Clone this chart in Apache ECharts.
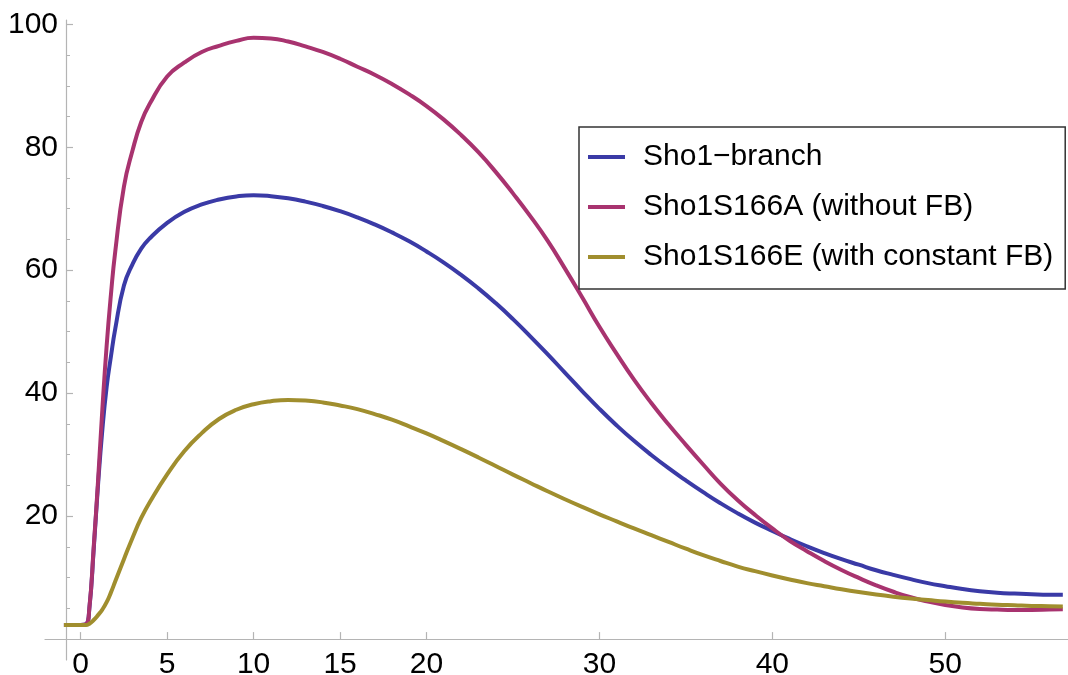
<!DOCTYPE html>
<html>
<head>
<meta charset="utf-8">
<script src="https://cdn.jsdelivr.net/npm/echarts@6/dist/echarts.min.js"></script>
<style>html,body{margin:0;padding:0;background:#fff}#c{width:1068px;height:675px}</style>
</head>
<body>
<div id="c"></div>
<script>
const seriesNames = ['Sho1\u2212branch', 'Sho1S166A (without FB)', 'Sho1S166E (with constant FB)'];
const xTickValues = [0, 5, 10, 15, 20, 30, 40, 50];
const yTickValues = [20, 40, 60, 80, 100];
const yMinorTickValues = [5, 10, 15, 25, 30, 35, 45, 50, 55, 65, 70, 75, 85, 90, 95];

const xs = [-0.97, 0, 0.3, 0.5, 0.75, 1, 1.25, 1.5, 1.75, 2, 2.5, 3, 3.5, 4,
  5, 6, 7, 8, 9, 10, 11, 12, 13, 14, 15, 16, 17, 18, 19, 20,
  21, 22, 23, 24, 25, 26, 27, 28, 29, 30, 31, 32, 33, 34, 35, 36, 37, 38, 39, 40,
  41, 42, 43, 44, 45, 46, 47, 48, 49, 50, 51, 52, 53, 54, 55, 56, 56.8];

const sho1Branch = [2.3, 2.3, 2.4, 5, 14.5, 25, 34, 41, 46, 50.5, 57.5, 61.0, 63.5, 65.2,
  67.7, 69.5, 70.7, 71.5, 72.0, 72.2, 72.05, 71.7, 71.15, 70.45, 69.6, 68.6, 67.45, 66.15, 64.7, 63.05,
  61.25, 59.25, 57.05, 54.65, 52.05, 49.25, 46.35, 43.35, 40.35, 37.45, 34.75, 32.25, 29.95, 27.8, 25.8, 23.9, 22.1, 20.45, 18.95, 17.6,
  16.3, 15.1, 14.0, 13.0, 12.1, 11.2, 10.45, 9.75, 9.1, 8.6, 8.15, 7.8, 7.55, 7.4, 7.3, 7.22, 7.2];

const sho1S166A = [2.3, 2.3, 2.4, 5, 14.9, 25.6, 37.3, 47.7, 56.1, 63.1, 73.6, 79.5, 84.1, 87.1,
  91.5, 93.8, 95.5, 96.5, 97.3, 97.8, 97.7, 97.2, 96.4, 95.5, 94.4, 93.1, 91.8, 90.3, 88.6, 86.7,
  84.5, 82.0, 79.2, 76.0, 72.5, 68.8, 64.8, 60.3, 55.6, 50.8, 46.4, 42.2, 38.4, 34.9, 31.6, 28.4, 25.3, 22.6, 20.2, 18.0,
  16.0, 14.3, 12.7, 11.25, 9.95, 8.75, 7.7, 6.8, 6.1, 5.55, 5.15, 4.9, 4.8, 4.75, 4.75, 4.8, 4.85];

const sho1S166E = [2.3, 2.3, 2.3, 2.5, 3.1, 3.9, 4.8, 6.0, 7.6, 9.4, 13.0, 16.5, 19.7, 22.3,
  26.8, 30.6, 33.5, 35.8, 37.3, 38.2, 38.7, 38.9, 38.8, 38.5, 38.0, 37.4, 36.6, 35.7, 34.6, 33.45,
  32.2, 30.9, 29.55, 28.15, 26.75, 25.4, 24.05, 22.75, 21.5, 20.3, 19.15, 18.0, 16.9, 15.8, 14.7, 13.65, 12.7, 11.8, 11.05, 10.35,
  9.7, 9.1, 8.6, 8.1, 7.65, 7.25, 6.9, 6.6, 6.35, 6.1, 5.9, 5.75, 5.6, 5.5, 5.4, 5.35, 5.3];

const colors = ['#3a3aa6', '#a8336f', '#a08e2e'];
const font = "'Liberation Sans', Arial, sans-serif";
const pair = ys => xs.map((x, i) => [x, ys[i]]);
const allY = [sho1Branch, sho1S166A, sho1S166E];

const chart = echarts.init(document.getElementById('c'), null, {renderer: 'canvas'});
const axisGray = '#b4b4b4';
chart.setOption({
  animation: false,
  backgroundColor: '#fff',
  grid: {left: 45, right: 0, top: 20, bottom: 15, containLabel: false, outerBoundsMode: 'none'},
  xAxis: {
    type: 'value', min: -2.065, max: 57.1,
    axisLine: {show: true, onZero: true, lineStyle: {color: axisGray, width: 1.2}},
    axisTick: {show: true, inside: true, length: 7, customValues: xTickValues, lineStyle: {color: axisGray, width: 1.2}},
    axisLabel: {customValues: xTickValues, fontSize: 30, color: '#000', fontFamily: font, margin: -10},
    splitLine: {show: false}
  },
  yAxis: [{
    type: 'value', min: -3.4, max: 100.7, offset: -21,
    axisLine: {show: true, onZero: false, lineStyle: {color: axisGray, width: 1.2}},
    axisTick: {show: true, inside: true, length: 7, customValues: yTickValues, lineStyle: {color: axisGray, width: 1.2}},
    axisLabel: {customValues: yTickValues, fontSize: 30, color: '#000', fontFamily: font, margin: 8},
    splitLine: {show: false}
  }, {
    type: 'value', min: -3.4, max: 100.7, offset: -21, position: 'left',
    axisLine: {show: false, onZero: false},
    axisTick: {show: true, inside: true, length: 4, customValues: yMinorTickValues, lineStyle: {color: axisGray, width: 1}},
    axisLabel: {show: false},
    splitLine: {show: false}
  }],
  legend: {
    orient: 'vertical', left: 579, top: 127,
    padding: [15, 12, 17, 9],
    backgroundColor: '#fff', borderColor: '#333', borderWidth: 1.5,
    icon: 'rect', itemWidth: 37, itemHeight: 4, itemGap: 20,
    textStyle: {fontSize: 30, lineHeight: 30, color: '#000', fontFamily: font, padding: [0, 0, 0, 13]},
    data: seriesNames
  },
  series: seriesNames.map((name, i) => ({
    name, type: 'line', data: pair(allY[i]),
    yAxisIndex: 0, showSymbol: false, symbol: 'none',
    smooth: 0.5,
    lineStyle: {color: colors[i], width: 4}, itemStyle: {color: colors[i]},
    z: 2 + i
  }))
});
</script>
</body>
</html>
